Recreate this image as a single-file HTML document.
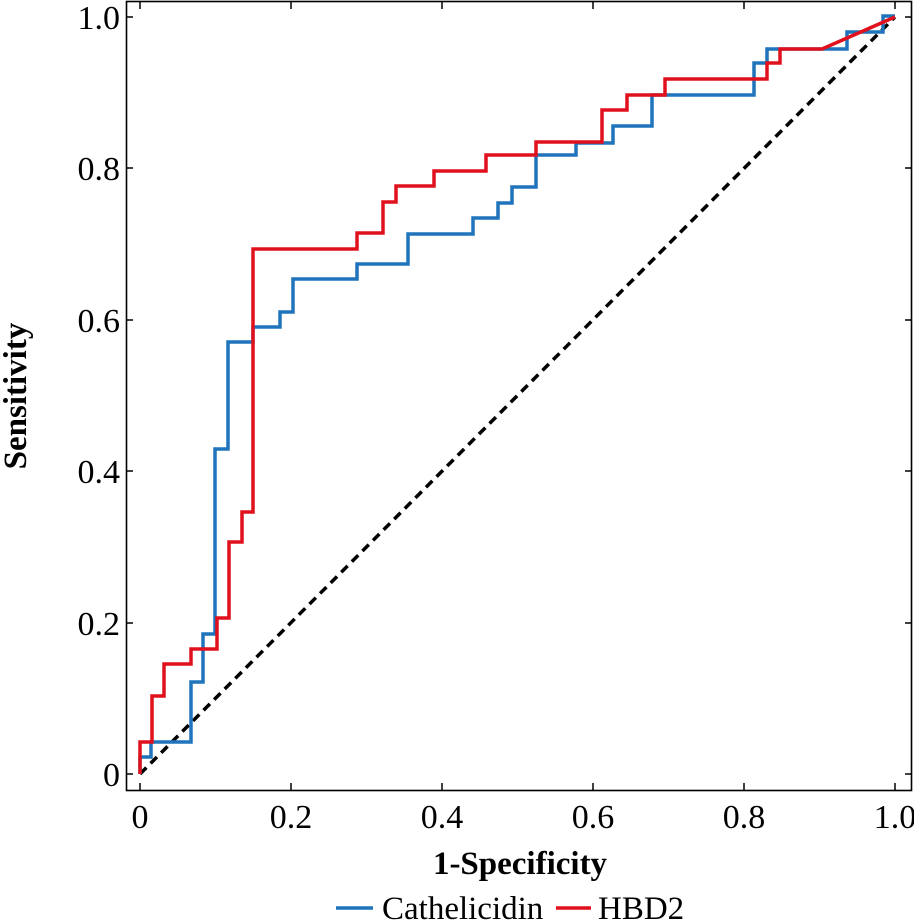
<!DOCTYPE html>
<html><head><meta charset="utf-8"><style>
body{margin:0;background:#fff}
svg{display:block}
text{font-family:"Liberation Serif",serif;fill:#000}
</style></head><body>
<svg width="914" height="922" viewBox="0 0 914 922">
<rect x="126.5" y="1.5" width="785" height="789" fill="none" stroke="#000" stroke-width="1.6"/>
<g stroke="#000" stroke-width="1.5">
<line x1="140" y1="790" x2="140" y2="783"/><line x1="291" y1="790" x2="291" y2="783"/><line x1="442" y1="790" x2="442" y2="783"/><line x1="593" y1="790" x2="593" y2="783"/><line x1="744" y1="790" x2="744" y2="783"/><line x1="895" y1="790" x2="895" y2="783"/>
<line x1="140" y1="2" x2="140" y2="9"/><line x1="291" y1="2" x2="291" y2="9"/><line x1="442" y1="2" x2="442" y2="9"/><line x1="593" y1="2" x2="593" y2="9"/><line x1="744" y1="2" x2="744" y2="9"/><line x1="895" y1="2" x2="895" y2="9"/>
<line x1="126" y1="774" x2="133" y2="774"/><line x1="126" y1="623" x2="133" y2="623"/><line x1="126" y1="471" x2="133" y2="471"/><line x1="126" y1="320" x2="133" y2="320"/><line x1="126" y1="168" x2="133" y2="168"/><line x1="126" y1="17" x2="133" y2="17"/>
<line x1="912" y1="774" x2="905" y2="774"/><line x1="912" y1="623" x2="905" y2="623"/><line x1="912" y1="471" x2="905" y2="471"/><line x1="912" y1="320" x2="905" y2="320"/><line x1="912" y1="168" x2="905" y2="168"/><line x1="912" y1="17" x2="905" y2="17"/>
</g>
<line x1="140" y1="774" x2="895" y2="17" stroke="#000" stroke-width="3.5" stroke-dasharray="9,6"/>
<polyline fill="none" stroke="#1f74bb" stroke-width="3.5" points="140,774 140,757 151,757 151,742 191,742 191,682 203,682 203,634 215,634 215,449 228,449 228,342 253,342 253,327 280,327 280,312 293,312 293,279 357,279 357,264 408,264 408,234 473,234 473,218 498,218 498,203 512,203 512,187 536,187 536,155 576,155 576,143 613,143 613,126 652,126 652,95 754,95 754,63 767,63 767,49 847,49 847,32 883,32 883,16 895,16"/>
<polyline fill="none" stroke="#e0101c" stroke-width="3.5" points="140,774 140,742 152,742 152,696 164,696 164,664 191,664 191,649 217,649 217,618 229,618 229,542 242,542 242,512 253,512 253,249 357,249 357,233 383,233 383,202 396,202 396,186 434,186 434,171 486,171 486,155 536,155 536,142 602,142 602,110 627,110 627,95 665,95 665,79 767,79 767,63 780,63 780,49 822,49 895,17"/>
<g font-size="34" text-anchor="end">
<text x="120" y="786">0</text><text x="120" y="635">0.2</text><text x="120" y="483">0.4</text><text x="120" y="332">0.6</text><text x="120" y="180">0.8</text><text x="120" y="29">1.0</text>
</g>
<g font-size="34" text-anchor="middle">
<text x="140" y="828">0</text><text x="291" y="828">0.2</text><text x="442" y="828">0.4</text><text x="593" y="828">0.6</text><text x="744" y="828">0.8</text><text x="895" y="828">1.0</text>
</g>
<text x="520" y="874" font-size="33" font-weight="bold" text-anchor="middle">1-Specificity</text>
<text transform="translate(26,396) rotate(-90)" font-size="33" font-weight="bold" text-anchor="middle">Sensitivity</text>
<line x1="336" y1="908" x2="373" y2="908" stroke="#1f74bb" stroke-width="3.5"/>
<text x="382" y="919" font-size="33">Cathelicidin</text>
<line x1="556" y1="908" x2="591" y2="908" stroke="#e0101c" stroke-width="3.5"/>
<text x="598" y="919" font-size="33">HBD2</text>
</svg>
</body></html>
